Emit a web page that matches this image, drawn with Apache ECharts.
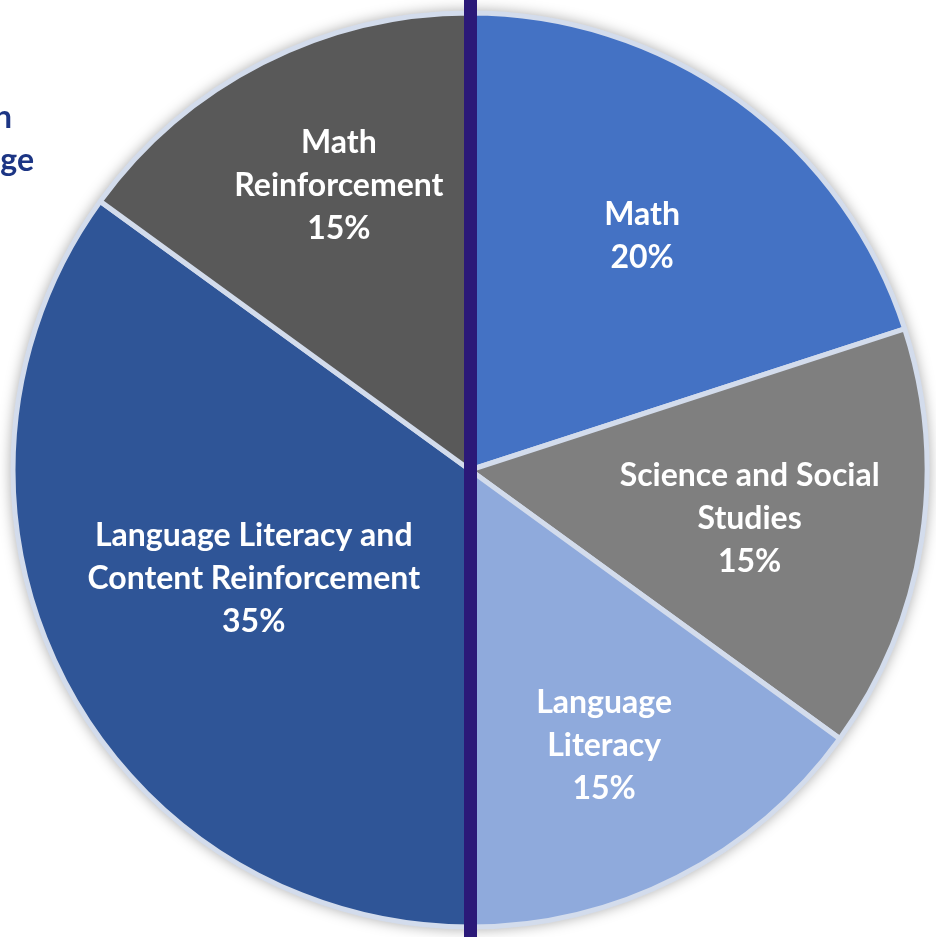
<!DOCTYPE html>
<html>
<head>
<meta charset="utf-8">
<script src="https://cdn.jsdelivr.net/npm/echarts@6/dist/echarts.min.js"></script>
<style>
  html, body { margin: 0; padding: 0; background: #fff; }
  #chart { width: 936px; height: 937px; }
</style>
</head>
<body>
<div id="chart"></div>
<script>
// slices, clockwise from 12 o'clock
const categories = [
    'Math',
    'Science and Social\nStudies',
    'Language\nLiteracy',
    'Language Literacy and\nContent Reinforcement',
    'Math\nReinforcement'
];
const values = [20, 15, 15, 35, 15];
const sliceColors = ['#4472C4', '#7F7F7F', '#8FAADC', '#2F5597', '#595959'];

// small nudges so the labels sit where the original put them
const labelNudge = [[36, -47], [51, 12], [29, 69], [-10, 4], [-26, -78]];

const myChart = echarts.init(document.getElementById('chart'));

const data = categories.map((name, i) => ({
    name: name,
    value: values[i],
    itemStyle: { color: sliceColors[i] }
}));

const option = {
    animation: false,
    graphic: [
        // divider through the middle of the pie
        { type: 'rect', z: 100, shape: { x: 464, y: 0, width: 13, height: 937 }, style: { fill: '#2B1978' } },
        // cut-off title on the left edge
        { type: 'text', z: 100, x: 12, y: 118, style: { text: 'h', fill: '#1C3584', font: 'bold 32px Lato', align: 'right', verticalAlign: 'middle' } },
        { type: 'text', z: 100, x: 34, y: 161, style: { text: 'ge', fill: '#1C3584', font: 'bold 32px Lato', align: 'right', verticalAlign: 'middle' } }
    ],
    series: [
        {
            // backdrop only for the soft shadow round the pie
            type: 'pie',
            silent: true,
            center: [470, 470],
            radius: [0, 459],
            z: 1,
            label: { show: false },
            labelLine: { show: false },
            itemStyle: {
                color: '#DCE3F0',
                shadowBlur: 14,
                shadowColor: 'rgba(0,0,0,0.35)'
            },
            data: [{ value: 1 }]
        },
        {
            type: 'pie',
            center: [470, 470],
            radius: [0, 457],
            startAngle: 90,
            clockwise: true,
            z: 2,
            itemStyle: {
                borderColor: '#D3DCEC',
                borderWidth: 5
            },
            label: {
                show: true,
                position: 'inside',
                formatter: '{b}\n{d}%',
                color: '#fff',
                fontFamily: 'Lato',
                fontWeight: 'bold',
                fontSize: 32,
                lineHeight: 43,
                align: 'center'
            },
            labelLine: { show: false },
            labelLayout: function (params) {
                const n = labelNudge[params.dataIndex] || [0, 0];
                return { dx: n[0], dy: n[1] };
            },
            data: data
        }
    ]
};
myChart.setOption(option);
</script>
</body>
</html>
